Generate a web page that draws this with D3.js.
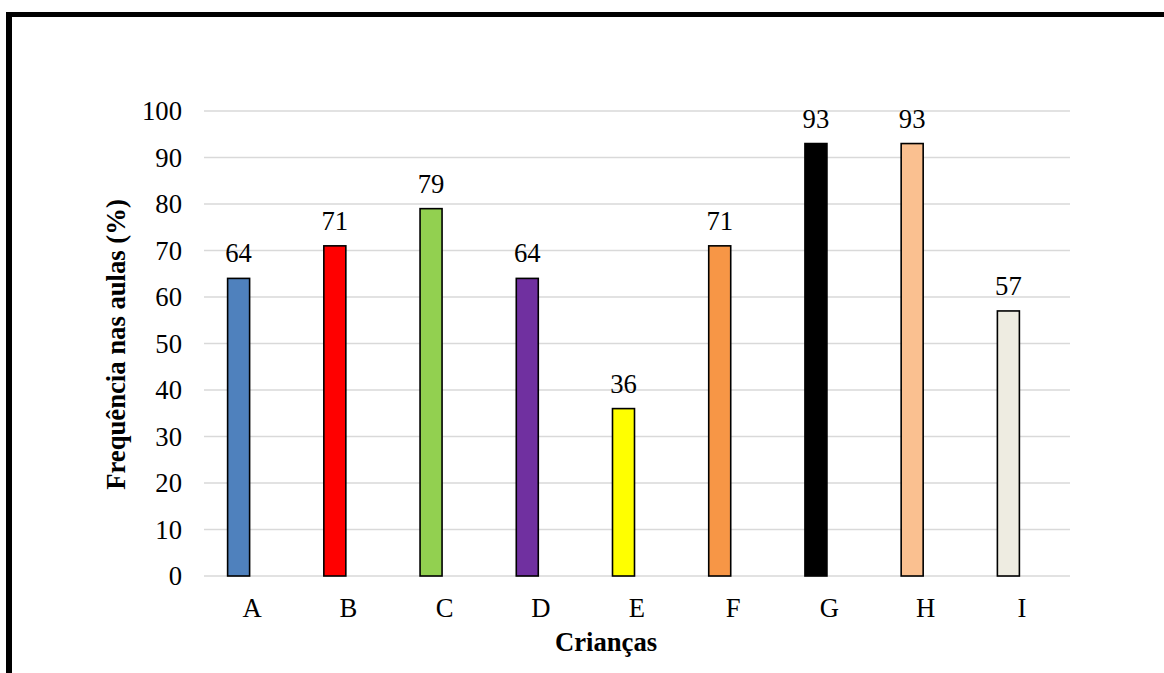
<!DOCTYPE html>
<html>
<head>
<meta charset="utf-8">
<script src="https://cdn.jsdelivr.net/npm/d3@7"></script>
<style>
  html, body { margin: 0; padding: 0; background: #fff; }
  svg { display: block; }
  text { font-family: "Liberation Serif", "Times New Roman", serif; fill: #000; }
</style>
</head>
<body>
<svg id="chart" width="1164" height="673"></svg>
<script>
// Attendance per child (%)
const categories = ["A", "B", "C", "D", "E", "F", "G", "H", "I"];
const values = [64, 71, 79, 64, 36, 71, 93, 93, 57];
const barColors = ["#4F81BD", "#FF0000", "#92D050", "#7030A0", "#FFFF00", "#F79646", "#000000", "#FAC090", "#EEECE1"];
const yTicks = [0, 10, 20, 30, 40, 50, 60, 70, 80, 90, 100];
const xTitle = "Crianças";
const yTitle = "Frequência nas aulas (%)";

const FONT = "'Liberation Serif', 'Times New Roman', serif";
const FS = "26.67px";

const svg = d3.select("#chart");
const W = 1164, H = 673;

// Frame: thick rules along the top and left edges
svg.append("rect").attr("x", 6).attr("y", 12).attr("width", W - 6).attr("height", 5).attr("fill", "#000");
svg.append("rect").attr("x", 6).attr("y", 12).attr("width", 6).attr("height", H - 12).attr("fill", "#000");

const plot = { left: 204, right: 1070, top: 111, bottom: 576 };

const x = d3.scaleBand().domain(categories).range([plot.left, plot.right]);
const y = d3.scaleLinear().domain([0, 100]).range([plot.bottom, plot.top]);

// Horizontal gridlines
svg.append("g")
  .selectAll("line")
  .data(yTicks)
  .join("line")
  .attr("x1", plot.left).attr("x2", plot.right)
  .attr("y1", d => y(d)).attr("y2", d => y(d))
  .attr("stroke", "#D9D9D9").attr("stroke-width", 1.5);

// Y axis tick labels
const yAxis = d3.axisLeft(y).tickValues(yTicks).tickSize(0).tickPadding(22);
const gy = svg.append("g").attr("transform", `translate(${plot.left},0)`).call(yAxis);
gy.select(".domain").remove();
gy.selectAll("text")
  .style("font-family", FONT)
  .style("font-size", FS)
  .attr("fill", "#000");

// X axis category labels
const xAxis = d3.axisBottom(x).tickSize(0).tickPadding(22);
const gx = svg.append("g").attr("transform", `translate(0,${plot.bottom})`).call(xAxis);
gx.select(".domain").remove();
gx.selectAll("text")
  .style("font-family", FONT)
  .style("font-size", FS)
  .attr("fill", "#000");

// Bars sit in the left half of each category slot
const barW = 22;
const barOffset = -13.5;
const barX = d => x(d) + x.bandwidth() / 2 + barOffset - barW / 2;

const data = categories.map((c, i) => ({ c, v: values[i], color: barColors[i] }));

svg.append("g")
  .selectAll("rect")
  .data(data)
  .join("rect")
  .attr("x", d => barX(d.c))
  .attr("y", d => y(d.v))
  .attr("width", barW)
  .attr("height", d => y(0) - y(d.v))
  .attr("fill", d => d.color)
  .attr("stroke", "#000")
  .attr("stroke-width", 1.6);

// Value labels above bars
svg.append("g")
  .selectAll("text")
  .data(data)
  .join("text")
  .attr("x", d => barX(d.c) + barW / 2)
  .attr("y", d => y(d.v) - 16)
  .attr("text-anchor", "middle")
  .style("font-family", FONT)
  .style("font-size", FS)
  .text(d => d.v);

// Axis titles
svg.append("text")
  .attr("x", 606)
  .attr("y", 651)
  .attr("text-anchor", "middle")
  .style("font-family", FONT)
  .style("font-size", FS)
  .style("font-weight", "bold")
  .text(xTitle);

svg.append("text")
  .attr("transform", "translate(125,344.5) rotate(-90)")
  .attr("text-anchor", "middle")
  .style("font-family", FONT)
  .style("font-size", FS)
  .style("font-weight", "bold")
  .text(yTitle);
</script>
</body>
</html>
